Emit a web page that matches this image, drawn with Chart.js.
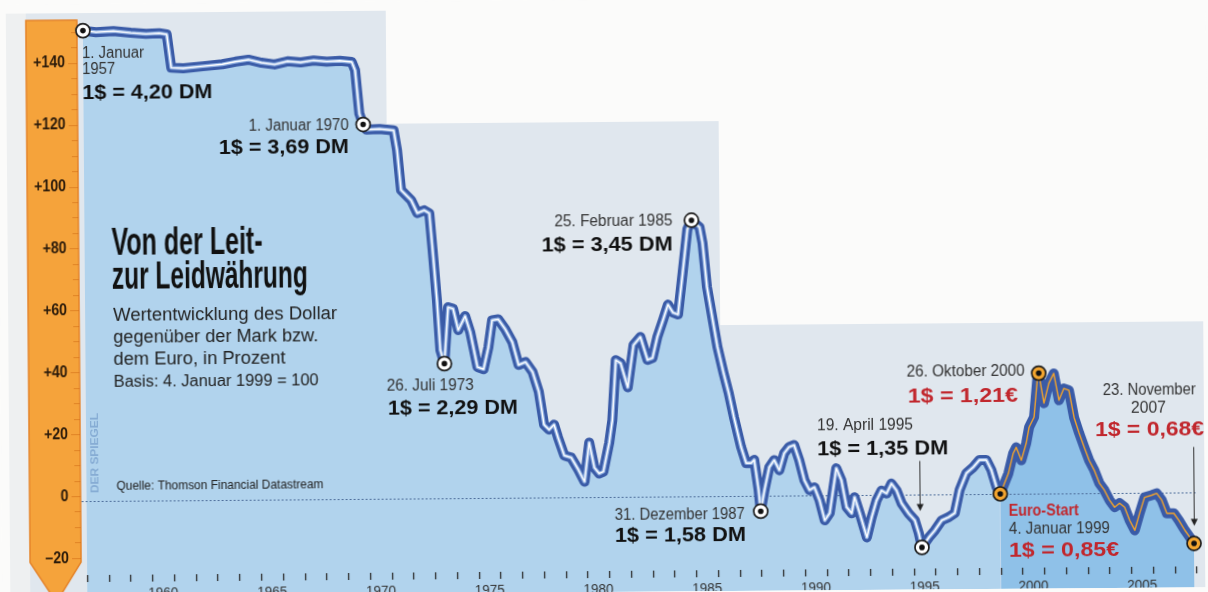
<!DOCTYPE html>
<html><head><meta charset="utf-8">
<script src="https://cdn.jsdelivr.net/npm/chart.js@4.4.0/dist/chart.umd.min.js"></script>
<style>
html,body{margin:0;padding:0;background:#fbfbfa;overflow:hidden;width:1208px;height:592px}
canvas{display:block;transform:rotate(-0.45deg);transform-origin:604px 296px}
</style>
</head><body>
<canvas id="c" width="1208" height="592"></canvas>
<script>
// ---------- DATA ----------
const dates = [
 1957.00,1957.60,1958.40,1959.20,1959.90,1960.50,1960.85,1961.05,1961.60,1962.50,
 1963.40,1964.00,1964.60,1965.20,1965.80,1966.40,1967.00,1967.60,1968.20,1968.80,
 1969.35,1969.50,1969.68,1969.85,1970.00,1970.60,1971.25,1971.40,1971.57,1972.03,
 1972.31,1972.63,1972.86,1973.00,1973.18,1973.32,1973.50,1973.69,1973.92,1974.15,
 1974.47,1974.70,1975.02,1975.30,1975.53,1975.71,1975.99,1976.31,1976.63,1976.91,
 1977.23,1977.55,1977.83,1978.06,1978.29,1978.52,1978.70,1978.98,1979.30,1979.62,
 1979.90,1980.13,1980.36,1980.58,1980.77,1981.05,1981.20,1981.38,1981.60,1981.92,
 1982.20,1982.52,1982.84,1983.07,1983.30,1983.57,1983.80,1984.03,1984.26,1984.49,
 1984.72,1984.91,1985.28,1985.41,1985.60,1985.83,1986.06,1986.33,1986.56,1986.79,
 1987.11,1987.34,1987.57,1987.71,1987.90,1987.99,1988.17,1988.40,1988.63,1988.86,
 1989.09,1989.32,1989.55,1989.78,1990.01,1990.24,1990.47,1990.70,1990.93,1991.16,
 1991.48,1991.71,1991.94,1992.17,1992.31,1992.54,1992.86,1993.09,1993.32,1993.55,
 1993.78,1994.01,1994.24,1994.47,1994.79,1995.07,1995.25,1995.39,1995.71,1995.99,
 1996.31,1996.63,1996.91,1997.14,1997.46,1997.78,1998.06,1998.38,1998.61,1998.84,
 1999.01,1999.39,1999.62,1999.76,1999.99,2000.22,2000.36,2000.59,2000.77,2000.82,
 2001.05,2001.28,2001.51,2001.74,2001.97,2002.20,2002.43,2002.66,2002.89,2003.11,
 2003.34,2003.57,2003.80,2004.03,2004.26,2004.49,2004.72,2004.95,2005.18,2005.41,
 2005.64,2005.97,2006.20,2006.43,2006.66,2006.98,2007.21,2007.48,2007.71,2007.90
];
const values = [
 152.0,151.5,151.8,151.2,150.8,151.0,150.6,139.8,139.6,140.2,
 140.8,141.6,142.2,141.2,140.6,141.6,141.2,141.8,141.4,141.6,
 141.2,138.5,124.5,121.0,119.3,119.5,119.0,112.6,99.7,96.4,
 92.2,93.1,92.1,80.2,64.0,47.9,43.5,61.7,61.2,54.3,
 58.8,53.6,42.3,41.6,48.7,57.4,57.7,54.5,50.3,42.9,
 43.8,40.6,34.2,23.5,21.9,23.5,19.3,13.5,12.8,8.9,
 5.0,17.6,9.5,7.6,8.2,17.5,24.8,44.2,43.2,35.4,
 49.0,51.6,44.2,44.8,51.6,57.1,62.0,59.4,58.8,72.4,
 86.3,89.2,86.9,81.8,67.6,57.9,48.2,39.8,33.3,25.5,
 15.8,10.6,10.6,11.6,1.9,-5.0,1.8,9.2,11.5,8.2,
 13.7,15.7,16.3,11.4,4.9,1.7,2.6,-1.6,-8.1,-5.8,
 8.7,4.8,-3.9,-5.9,-0.7,-5.9,-13.7,-7.2,-1.8,1.4,
 0.4,3.6,1.4,-2.8,-6.1,-8.3,-12.5,-17.1,-13.9,-11.6,
 -8.4,-7.4,-6.1,1.3,6.8,8.7,11.0,11.0,7.7,2.2,
 0.0,6.6,13.1,15.0,10.8,16.3,21.5,24.7,38.3,38.9,
 29.2,35.6,38.8,30.1,33.9,33.3,24.5,19.4,14.8,10.6,
 7.4,3.2,0.9,-2.3,-4.6,-3.3,-4.6,-8.9,-12.1,-6.6,
 -1.5,-0.8,-0.2,-2.4,-6.7,-6.7,-9.0,-12.2,-14.5,-16.5
];
const markerDates = [1957.00, 1969.85, 1973.50, 1984.91, 1987.99, 1995.39, 1999.01, 2000.82, 2007.90];
const euroStart = 1999.01;
const yTickValues = [140, 120, 100, 80, 60, 40, 20, 0, -20];
const yTickLabels = ['+140', '+120', '+100', '+80', '+60', '+40', '+20', '0', '–20'];
const xTickYears = [];
for (let y = 1957; y <= 2008; y++) xTickYears.push(y);
const xLabelYears = [1960, 1965, 1970, 1975, 1980, 1985, 1990, 1995, 2000, 2005];

// ---------- texts ----------
const NARROW = '"Liberation Sans Narrow","Liberation Sans",Arial,sans-serif';
const RED = '#c1272d';
const notes = [
 ['1. Januar', 84, 53, 62, 'd'], ['1957', 84, 70, 33, 'd'], ['1$ = 4,20 DM', 84, 93, 130, 'b'],
 ['1. Januar 1970', 250, 126, 100, 'd'], ['1$ = 3,69 DM', 220, 148, 130, 'b'],
 ['26. Juli 1973', 386, 386, 87, 'd'], ['1$ = 2,29 DM', 387, 408, 130, 'b'],
 ['25. Februar 1985', 555, 222, 118, 'd'], ['1$ = 3,45 DM', 542, 245, 131, 'b'],
 ['31. Dezember 1987', 613, 515, 130, 'd'], ['1$ = 1,58 DM', 613, 536, 131, 'b'],
 ['19. April 1995', 816, 426, 96, 'd'], ['1$ = 1,35 DM', 816, 449, 131, 'b'],
 ['26. Oktober 2000', 906, 372, 118, 'd'], ['1$ = 1,21€', 907, 396, 110, 'r'],
 ['23. November', 1102, 390, 93, 'd'], ['2007', 1130, 408, 35, 'd'], ['1$ = 0,68€', 1094, 430, 109, 'r'],
 ['Euro-Start', 1007, 511, 70, 'e'], ['4. Januar 1999', 1007, 529, 101, 'd'], ['1$ = 0,85€', 1007, 551, 110, 'r']
];

const TILT = Math.tan(0.45 * Math.PI / 180);
const comp = x => (x - 604) * TILT;

function fitText(ctx, text, x, y, w, font, color, align) {
  ctx.save();
  ctx.font = font; ctx.fillStyle = color; ctx.textBaseline = 'middle'; ctx.textAlign = align || 'left';
  const m = ctx.measureText(text).width;
  ctx.translate(x, y); ctx.scale(w / m, 1); ctx.fillText(text, 0, 0);
  ctx.restore();
}
function noteText(ctx, text, x, y, w, font, color) {
  fitText(ctx, text, x, y + comp(x + w / 2), w, font, color);
}

const bgPlugin = {
  id: 'bg',
  beforeDraw(chart) {
    const ctx = chart.ctx, ys = chart.scales.y;
    ctx.save();
    ctx.fillStyle = '#fbfbfa'; ctx.fillRect(0, 0, 1208, 592);
    ctx.fillStyle = '#e0e7ee';
    ctx.beginPath();
    ctx.moveTo(8, 600); ctx.lineTo(8, 9); ctx.lineTo(388, 9); ctx.lineTo(388, 122);
    ctx.lineTo(720, 122); ctx.lineTo(720, 326); ctx.lineTo(1203, 326); ctx.lineTo(1203, 600);
    ctx.closePath(); ctx.fill();
    ctx.fillStyle = '#eef0f1'; ctx.fillRect(8, 9, 20, 591);
    ctx.beginPath();
    ctx.moveTo(28, 16); ctx.lineTo(79, 16); ctx.lineTo(79, 558); ctx.lineTo(54, 598); ctx.lineTo(28, 558); ctx.closePath();
    ctx.fillStyle = '#f5a33b'; ctx.fill();
    ctx.strokeStyle = '#e5842a'; ctx.lineWidth = 1.5; ctx.stroke();
    ctx.strokeStyle = 'rgba(205,105,20,0.55)'; ctx.lineWidth = 1;
    for (let v = -25; v <= 155; v += 5) {
      const py = Math.round(ys.getPixelForValue(v) - 5) + 0.5;
      if (py < 18 || py > 556) continue;
      ctx.beginPath(); ctx.moveTo(v % 20 === 0 ? 70 : 73, py); ctx.lineTo(79, py); ctx.stroke();
    }
    ctx.font = '700 17px ' + NARROW;
    const sx = 32 / ctx.measureText('+140').width;
    ctx.fillStyle = '#2a1a0a'; ctx.textAlign = 'right'; ctx.textBaseline = 'middle';
    yTickValues.forEach((v, i) => {
      ctx.save(); ctx.translate(67, ys.getPixelForValue(v) - 5); ctx.scale(sx, 1);
      ctx.fillText(yTickLabels[i], 0, 0); ctx.restore();
    });
    ctx.restore();
  },
  beforeDatasetsDraw(chart) {
    const ctx = chart.ctx, ys = chart.scales.y;
    ctx.save();
    const py = Math.round(ys.getPixelForValue(0)) + 0.5;
    ctx.strokeStyle = '#4f6f9c'; ctx.lineWidth = 1; ctx.setLineDash([2, 2]);
    ctx.beginPath(); ctx.moveTo(80, py); ctx.lineTo(1195, py); ctx.stroke();
    ctx.restore();
  },
  afterDraw(chart) {
    const ctx = chart.ctx, xs = chart.scales.x;
    ctx.save();
    ctx.strokeStyle = '#2b2b2b'; ctx.lineWidth = 1.3;
    xTickYears.forEach(y => {
      const px = Math.round(xs.getPixelForValue(y)) + 0.5;
      ctx.beginPath(); ctx.moveTo(px, 571); ctx.lineTo(px, 578); ctx.stroke();
    });
    xLabelYears.forEach(y => {
      fitText(ctx, String(y), xs.getPixelForValue(y + 0.5), 590, 30, '400 15px ' + NARROW, '#333', 'center');
    });
    noteText(ctx, 'Von der Leit-', 112, 244, 151, '700 38px ' + NARROW, '#111');
    noteText(ctx, 'zur Leidwährung', 112, 278, 196, '700 38px ' + NARROW, '#111');
    noteText(ctx, 'Wertentwicklung des Dollar', 113, 315, 224, '400 18px ' + NARROW, '#222');
    noteText(ctx, 'gegenüber der Mark bzw.', 113, 337, 205, '400 18px ' + NARROW, '#222');
    noteText(ctx, 'dem Euro, in Prozent', 113, 359, 172, '400 18px ' + NARROW, '#222');
    noteText(ctx, 'Basis: 4. Januar 1999 = 100', 113, 382, 205, '400 16px ' + NARROW, '#222');
    noteText(ctx, 'Quelle: Thomson Financial Datastream', 115, 485, 207, '400 13px ' + NARROW, '#222');
    ctx.save(); ctx.translate(94, 453 + comp(94)); ctx.rotate(-Math.PI / 2);
    fitText(ctx, 'DER SPIEGEL', 0, 0, 80, '700 10px ' + NARROW, '#86acd4', 'center');
    ctx.restore();
    notes.forEach(([t, x, y, w, k]) => {
      if (k === 'd') noteText(ctx, t, x, y, w, '400 16px ' + NARROW, '#333');
      else if (k === 'b') noteText(ctx, t, x, y, w, '700 21px ' + NARROW, '#111');
      else if (k === 'r') noteText(ctx, t, x, y, w, '700 21px ' + NARROW, RED);
      else noteText(ctx, t, x, y, w, '700 16px ' + NARROW, RED);
    });
    const arrow = (x, y1, y2) => {
      const c = comp(x); y1 += c; y2 += c;
      ctx.strokeStyle = '#333'; ctx.lineWidth = 1; ctx.beginPath(); ctx.moveTo(x, y1); ctx.lineTo(x, y2 - 6); ctx.stroke();
      ctx.fillStyle = '#222'; ctx.beginPath(); ctx.moveTo(x - 3.5, y2 - 7); ctx.lineTo(x + 3.5, y2 - 7); ctx.lineTo(x, y2); ctx.closePath(); ctx.fill();
    };
    arrow(918.5, 461, 511);
    arrow(1192.5, 447, 526);
    ctx.restore();
  }
};

const pts = dates.map((d, i) => ({ x: d, y: values[i] }));
const markerPts = markerDates.map(d => { const i = dates.indexOf(d); return { x: dates[i], y: values[i] }; });
const isEuro = c => c.p0.parsed.x >= euroStart - 0.001;
const BLUE = '#3a5ba7';

new Chart(document.getElementById('c'), {
  type: 'line',
  data: {
    datasets: [
      { data: pts, borderColor: BLUE, borderWidth: 10, pointRadius: 0, fill: 'start', backgroundColor: '#b1d3ed',
        segment: { backgroundColor: c => isEuro(c) ? '#8fc1e8' : undefined },
        borderJoinStyle: 'round', borderCapStyle: 'round', order: 5, clip: false },
      { data: pts, borderColor: '#8eaee0', borderWidth: 3.8, pointRadius: 0, fill: false,
        segment: { borderColor: c => isEuro(c) ? BLUE : undefined }, borderJoinStyle: 'round', order: 4, clip: false },
      { data: pts, borderColor: '#ffffff', borderWidth: 1.4, pointRadius: 0, fill: false,
        segment: { borderColor: c => isEuro(c) ? '#f2a32c' : undefined }, borderJoinStyle: 'round', order: 3, clip: false },
      { type: 'scatter', data: markerPts, pointRadius: 7, pointBorderWidth: 1.7, pointBorderColor: '#1e1e1e',
        pointBackgroundColor: c => (c.raw && c.raw.x >= euroStart - 0.001) ? '#f3a52f' : '#ffffff', order: 2, clip: false },
      { type: 'scatter', data: markerPts, pointRadius: 2.8, pointBorderWidth: 0, pointBackgroundColor: '#111', order: 1, clip: false }
    ]
  },
  options: {
    responsive: false, animation: false, events: [],
    layout: { padding: 0, autoPadding: false },
    scales: {
      x: { type: 'linear', min: 1953.092, max: 2008.632, display: false },
      y: { type: 'linear', min: -30.7, max: 160.6, display: false }
    },
    plugins: { legend: { display: false }, tooltip: { enabled: false }, filler: { drawTime: 'beforeDatasetsDraw' } }
  },
  plugins: [bgPlugin]
});
</script>
</body></html>
